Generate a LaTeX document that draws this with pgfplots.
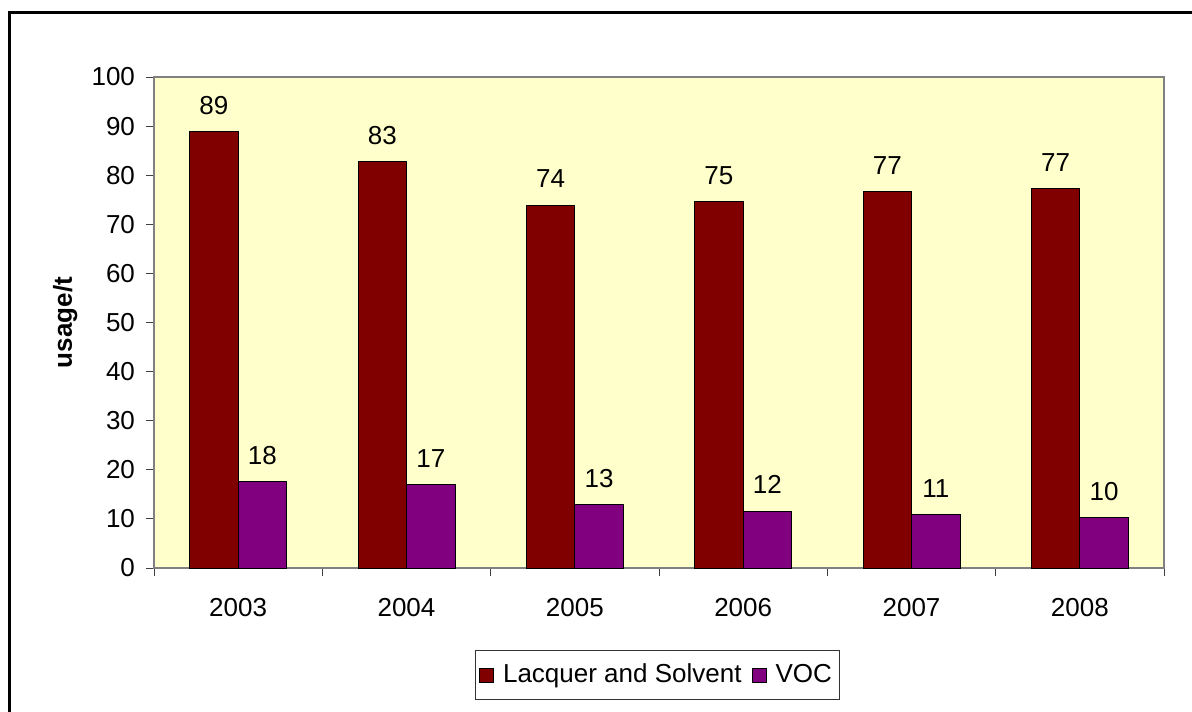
\documentclass[border=0pt]{standalone}
\usepackage{pgfplots}
\pgfplotsset{compat=1.18}
\usepackage{fontspec}
\setmainfont{Liberation Sans}
\definecolor{barred}{HTML}{800000}
\definecolor{barpurple}{HTML}{800080}
\definecolor{plotbg}{HTML}{FFFFCC}
\begin{document}
\fontsize{13}{15}\selectfont
\begin{tikzpicture}
\useasboundingbox (0pt,0pt) rectangle (596pt,-355.5pt);
\draw[line width=1.5pt] (4.75pt,-360pt) -- (4.75pt,-6.5pt) -- (600pt,-6.5pt);
\begin{axis}[
  at={(77pt,-284pt)}, anchor=south west,
  scale only axis, width=505pt, height=245.5pt,
  ymin=0, ymax=100, ytick={0,10,...,100},
  xmin=-0.5, xmax=5.5,
  xtick={-0.5,0.5,...,5.5},
  xticklabels={2003,2004,2005,2006,2007,2008},
  x tick label as interval,
  tick align=outside, tick pos=left, major tick length=4pt,
  tick style={draw=black!75, line width=0.5pt},
  axis line style={draw=black!50, line width=0.6pt},
  axis background/.style={fill=plotbg},
  /pgf/number format/assume math mode=true,
  ticklabel style={font=\fontsize{13}{15}\selectfont},
  xticklabel style={yshift=-6.5pt},
  yticklabel style={xshift=-1pt},
  ylabel={\textbf{usage/t}},
  every axis y label/.style={at={(axis description cs:-0.088,0.5)}, rotate=90, anchor=center, font=\fontsize{13}{15}\selectfont},
  ybar=0pt, bar width=24.25pt,
  nodes near coords={\pgfmathprintnumber[fixed,precision=0]{\pgfplotspointmeta}},
  every node near coord/.append style={font=\fontsize{13}{15}\selectfont, yshift=4pt, black},
  legend style={at={(axis description cs:0.4985,-0.218)}, anchor=center, draw=black!80, line width=0.5pt, legend columns=-1, font=\fontsize{13}{15}\selectfont, inner xsep=2pt, inner ysep=4.5pt,
    /tikz/every odd column/.append style={column sep=2.5pt},
    /tikz/every even column/.append style={column sep=3pt}},
]
\addplot[fill=barred, draw=black, line width=0.5pt,
  legend image code/.code={\draw[fill=barred, draw=black, line width=0.5pt] (0pt,-3.5pt) rectangle (7pt,3.5pt);}]
  coordinates {(0,88.8) (1,82.8) (2,73.9) (3,74.6) (4,76.7) (5,77.2)};
\addplot[fill=barpurple, draw=black, line width=0.5pt,
  legend image code/.code={\draw[fill=barpurple, draw=black, line width=0.5pt] (0pt,-3.5pt) rectangle (7pt,3.5pt);}]
  coordinates {(0,17.6) (1,17.0) (2,12.9) (3,11.6) (4,10.9) (5,10.2)};
\legend{Lacquer and Solvent, VOC}
\end{axis}
\end{tikzpicture}
\end{document}
